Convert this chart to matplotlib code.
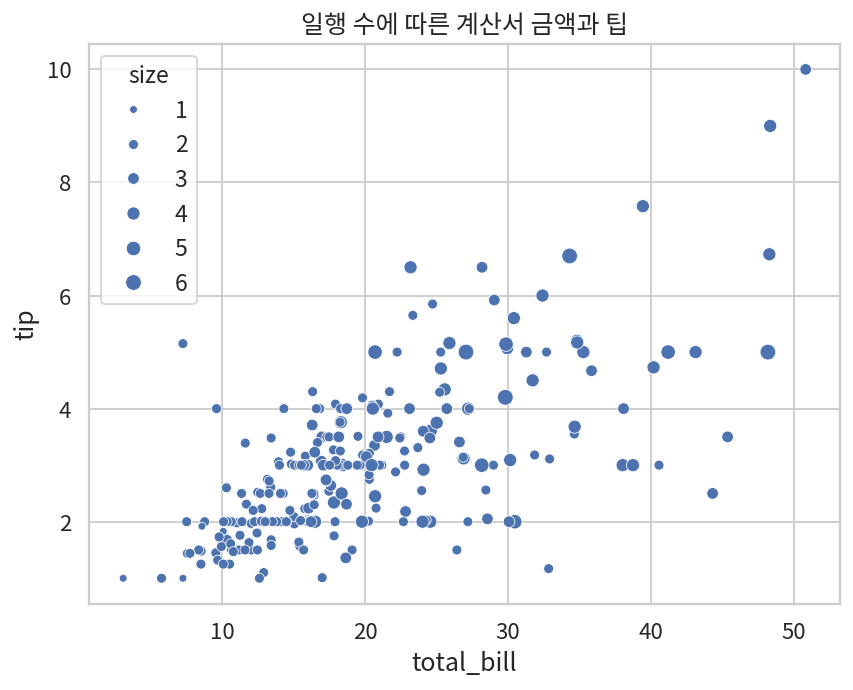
import matplotlib
matplotlib.use("Agg")
import matplotlib.pyplot as plt
import seaborn as sns
import pandas as pd

total_bill = [16.99,10.34,21.01,23.68,24.59,25.29,8.77,26.88,15.04,14.78,10.27,35.26,15.42,18.43,14.83,21.58,10.33,16.29,16.97,20.65,17.92,20.29,15.77,39.42,19.82,17.81,13.37,12.69,21.7,19.65,9.55,18.35,15.06,20.69,17.78,24.06,16.31,16.93,18.69,31.27,16.04,17.46,13.94,9.68,30.4,18.29,22.23,32.4,28.55,18.04,12.54,10.29,34.81,9.94,25.56,19.49,38.01,26.41,11.24,48.27,20.29,13.81,11.02,18.29,17.59,20.08,16.45,3.07,20.23,15.01,12.02,17.07,26.86,25.28,14.73,10.51,17.92,27.2,22.76,17.29,19.44,16.66,10.07,32.68,15.98,34.83,13.03,18.28,24.71,21.16,28.97,22.49,5.75,16.32,22.75,40.17,27.28,12.03,21.01,12.46,11.35,15.38,44.3,22.42,20.92,15.36,20.49,25.21,18.24,14.31,14.0,7.25,38.07,23.95,25.71,17.31,29.93,10.65,12.43,24.08,11.69,13.42,14.26,15.95,12.48,29.8,8.52,14.52,11.38,22.82,19.08,20.27,11.17,12.26,18.26,8.51,10.33,14.15,16.0,13.16,17.47,34.3,41.19,27.05,16.43,8.35,18.64,11.87,9.78,7.51,14.07,13.13,17.26,24.55,19.77,29.85,48.17,25.0,13.39,16.49,21.5,12.66,16.21,13.81,17.51,24.52,20.76,31.71,10.59,10.63,50.81,15.81,7.25,31.85,16.82,32.9,17.89,14.48,9.6,34.63,34.65,23.33,45.35,23.17,40.55,20.69,20.9,30.46,18.15,23.1,15.69,19.81,28.44,15.48,16.58,7.56,10.34,43.11,13.0,13.51,18.71,12.74,13.0,16.4,20.53,16.47,26.59,38.73,24.27,12.76,30.06,25.89,48.33,13.27,28.17,12.9,28.15,11.59,7.74,30.14,12.16,13.42,8.58,15.98,13.42,16.27,10.09,20.45,13.28,22.12,24.01,15.69,11.61,10.77,15.53,10.07,12.6,32.83,35.83,29.03,27.18,22.67,17.82,18.78]
tip = [1.01,1.66,3.5,3.31,3.61,4.71,2.0,3.12,1.96,3.23,1.71,5.0,1.57,3.0,3.02,3.92,1.67,3.71,3.5,3.35,4.08,2.75,2.23,7.58,3.18,2.34,2.0,2.0,4.3,3.0,1.45,2.5,3.0,2.45,3.27,3.6,2.0,3.07,2.31,5.0,2.24,2.54,3.06,1.32,5.6,3.0,5.0,6.0,2.05,3.0,2.5,2.6,5.2,1.56,4.34,3.51,3.0,1.5,1.76,6.73,3.21,2.0,1.98,3.76,2.64,3.15,2.47,1.0,2.01,2.09,1.97,3.0,3.14,5.0,2.2,1.25,3.08,4.0,3.0,2.71,3.0,3.4,1.83,5.0,2.03,5.17,2.0,4.0,5.85,3.0,3.0,3.5,1.0,4.3,3.25,4.73,4.0,1.5,3.0,1.5,2.5,3.0,2.5,3.48,4.08,1.64,4.06,4.29,3.76,4.0,3.0,1.0,4.0,2.55,4.0,3.5,5.07,1.5,1.8,2.92,2.31,1.68,2.5,2.0,2.52,4.2,1.48,2.0,2.0,2.18,1.5,2.83,1.5,2.0,3.25,1.25,2.0,2.0,2.0,2.75,3.5,6.7,5.0,5.0,2.3,1.5,1.36,1.63,1.73,2.0,2.5,2.0,2.74,2.0,2.0,5.14,5.0,3.75,2.61,2.0,3.5,2.5,2.0,2.0,3.0,3.48,2.24,4.5,1.61,2.0,10.0,3.16,5.15,3.18,4.0,3.11,2.0,2.0,4.0,3.55,3.68,5.65,3.5,6.5,3.0,5.0,3.5,2.0,3.5,4.0,1.5,4.19,2.56,2.02,4.0,1.44,2.0,5.0,2.0,2.0,4.0,2.01,2.0,2.5,4.0,3.23,3.41,3.0,2.03,2.23,2.0,5.16,9.0,2.5,6.5,1.1,3.0,1.5,1.44,3.09,2.2,3.48,1.92,3.0,1.58,2.5,2.0,3.0,2.72,2.88,2.0,3.0,3.39,1.47,3.0,1.25,1.0,1.17,4.67,5.92,2.0,2.0,1.75,3.0]
size = [2,3,3,2,4,4,2,4,2,2,2,4,2,4,2,2,3,3,3,3,2,2,2,4,2,4,2,2,2,2,2,4,2,4,2,3,3,3,3,3,3,2,2,2,4,2,2,4,3,2,2,2,4,2,4,2,4,2,2,4,2,2,2,4,3,3,2,1,2,2,2,3,2,2,2,2,2,4,2,2,2,2,1,2,2,4,2,2,2,2,2,2,2,2,2,4,2,2,2,2,2,2,3,2,2,2,2,2,2,2,2,1,3,2,3,2,4,2,2,4,2,2,2,2,2,6,2,2,2,3,2,2,2,2,2,2,2,2,2,2,2,6,5,6,2,2,3,2,2,2,2,2,3,4,4,5,6,4,2,4,4,2,3,2,2,3,2,4,2,2,3,2,2,2,2,2,2,2,2,2,4,2,3,4,2,5,3,5,3,3,2,2,2,2,2,2,2,4,2,2,3,2,2,2,4,3,3,4,2,2,3,4,4,2,3,2,5,2,2,4,2,2,1,3,2,2,2,4,2,2,4,3,2,2,2,2,2,2,3,3,2,2,2,2]

df = pd.DataFrame({"total_bill": total_bill, "tip": tip, "size": size})

sns.set_theme(style="whitegrid")
plt.rcParams['font.family'] = ['Noto Sans CJK KR', 'DejaVu Sans']
plt.rcParams.update({'xtick.labelsize': 12, 'ytick.labelsize': 12,
                     'axes.labelsize': 13.5, 'axes.titlesize': 13.5,
                     'legend.fontsize': 12.5, 'legend.title_fontsize': 12.5})

fig, ax = plt.subplots(figsize=(6.4, 5.18), dpi=133.3)
sns.scatterplot(data=df, x="total_bill", y="tip", size="size", ax=ax, color="#4C72B0")
ax.set_title("일행 수에 따른 계산서 금액과 팁")
ax.legend(title="size", loc="upper left")
fig.tight_layout(pad=0.6)
fig.savefig("out.png", dpi=133.3)
